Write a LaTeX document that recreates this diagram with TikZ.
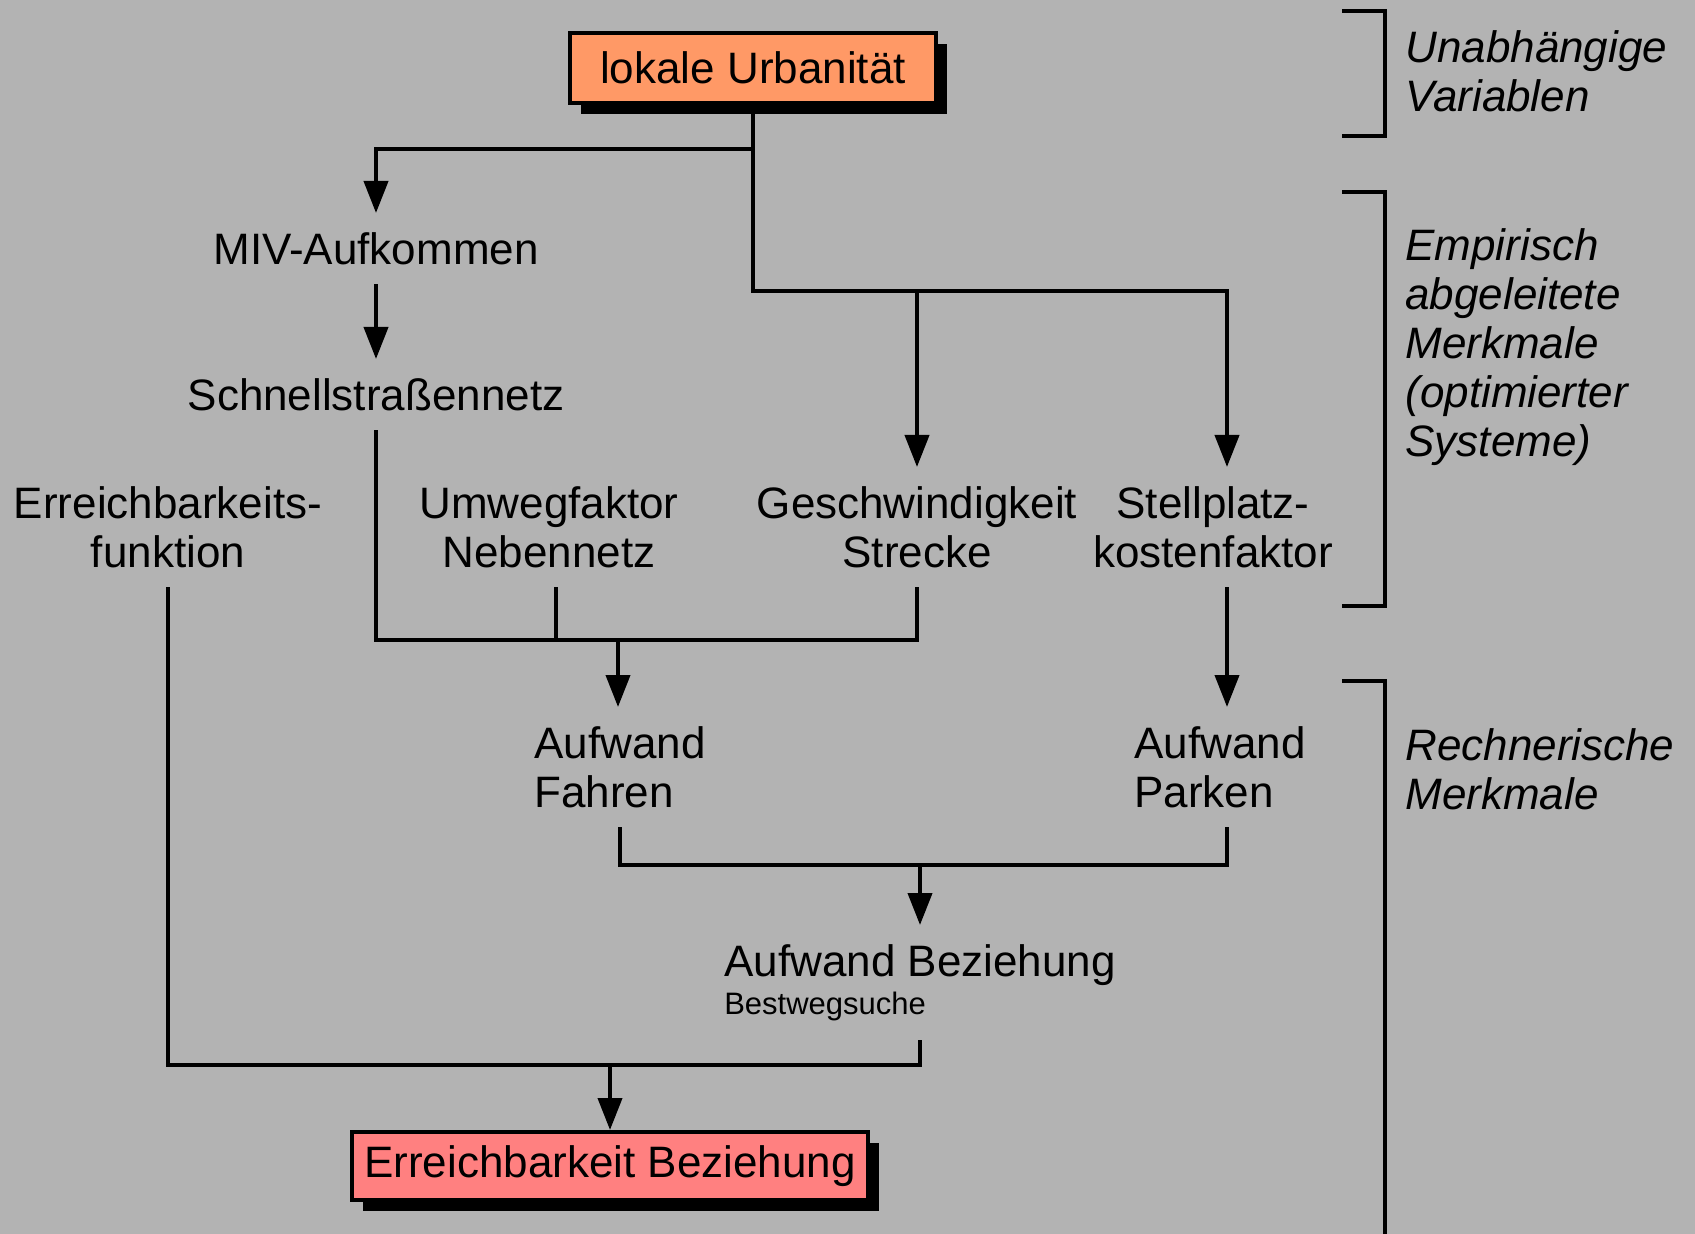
\documentclass[tikz,border=0pt]{standalone}
\usepackage{fontspec}
\setmainfont{Liberation Sans}
\usetikzlibrary{arrows.meta, shadows}
\definecolor{urban}{RGB}{255,153,102}
\definecolor{target}{RGB}{255,128,128}
\definecolor{bg}{RGB}{179,179,179}

\begin{document}
\begin{tikzpicture}[x=0.5pt, y=-0.5pt, font=\fontsize{22}{24.5}\selectfont,
  flow/.style={line width=2pt},
  arr/.style={flow, -{Triangle[length=16pt, width=12pt]}},
  txt/.style={inner sep=9.5pt, align=center, anchor=north},
  ltxt/.style={txt, align=left},
  box/.style={draw, line width=2pt, inner sep=0pt, drop shadow={shadow xshift=5.5pt, shadow yshift=-5.5pt, fill=black, opacity=1}},
  tag/.style={inner sep=0pt, align=left, anchor=north west, font=\fontsize{22}{24.5}\selectfont\itshape}]
\useasboundingbox (0,0) rectangle (1695,1234);
\fill[bg] (0,0) rectangle (1695,1234);

\node[box, fill=urban, minimum width=183pt, minimum height=35pt] (top) at (753,68) {lokale Urbanität};
\node[txt] (miv) at (376,213) {MIV-Aufkommen};
\node[txt] (schnell) at (376,359) {Schnellstraßennetz};
\node[txt] (erreich) at (168,467) {Erreichbarkeits-\\funktion};
\node[txt] (umweg) at (549,467) {Umwegfaktor\\Nebennetz};
\node[txt] (geschw) at (917,467) {Geschwindigkeit\\Strecke};
\node[txt] (stell) at (1213,467) {Stellplatz-\\kostenfaktor};
\node[ltxt] (fahren) at (620,707) {Aufwand\\Fahren};
\node[ltxt] (parken) at (1220,707) {Aufwand\\Parken};
\node[ltxt] (bez) at (920,925) {Aufwand Beziehung\\[-5.5pt]{\fontsize{15.5}{17}\selectfont Bestwegsuche}};
\node[box, fill=target, minimum width=258pt, minimum height=34pt] (ziel) at (610,1166) {Erreichbarkeit Beziehung};

% Ebenen rechts
\draw[flow] (1342,11) -| (1385,136) -- (1342,136);
\draw[flow] (1342,192) -| (1385,606) -- (1342,606);
\draw[flow] (1342,681) -| (1385,1234);
\node[tag] (ebene1) at (1405,30) {Unabhängige\\Variablen};
\node[tag] (ebene2) at (1405,228) {Empirisch\\abgeleitete\\Merkmale\\(optimierter\\Systeme)};
\node[tag] (ebene3) at (1405,728) {Rechnerische\\Merkmale};

\coordinate (split1) at (753,149);
\coordinate (split2) at (753,291);
\coordinate (merge1) at (618,640);
\coordinate (merge2) at (920,865);
\coordinate (merge3) at (610,1065);

\draw[arr] (top.south) -- (split1) -| (miv.north);
\draw[arr] (split1) -- (split2) -| ([xshift=7pt]stell.north);
\draw[arr] (split2 -| geschw.north) -- (geschw.north);
\draw[arr] (miv.south) -- (schnell.north);
\draw[flow] (schnell.south) |- (merge1) -| (geschw.south);
\draw[flow] ([xshift=3.5pt]umweg.south) -- ([xshift=3.5pt]umweg.south |- merge1);
\draw[arr] (merge1) -- (merge1 |- fahren.north);
\draw[arr] ([xshift=7pt]stell.south) -- ([xshift=7pt]stell.south |- parken.north);
\draw[flow] (fahren.south) |- (merge2) -| ([xshift=3.5pt]parken.south);
\draw[arr] (merge2) -- (bez.north);
\draw[flow] (erreich.south) |- (merge3) -| (bez.south);
\draw[arr] (merge3) -- (merge3 |- ziel.north);

\end{tikzpicture}
\end{document}
